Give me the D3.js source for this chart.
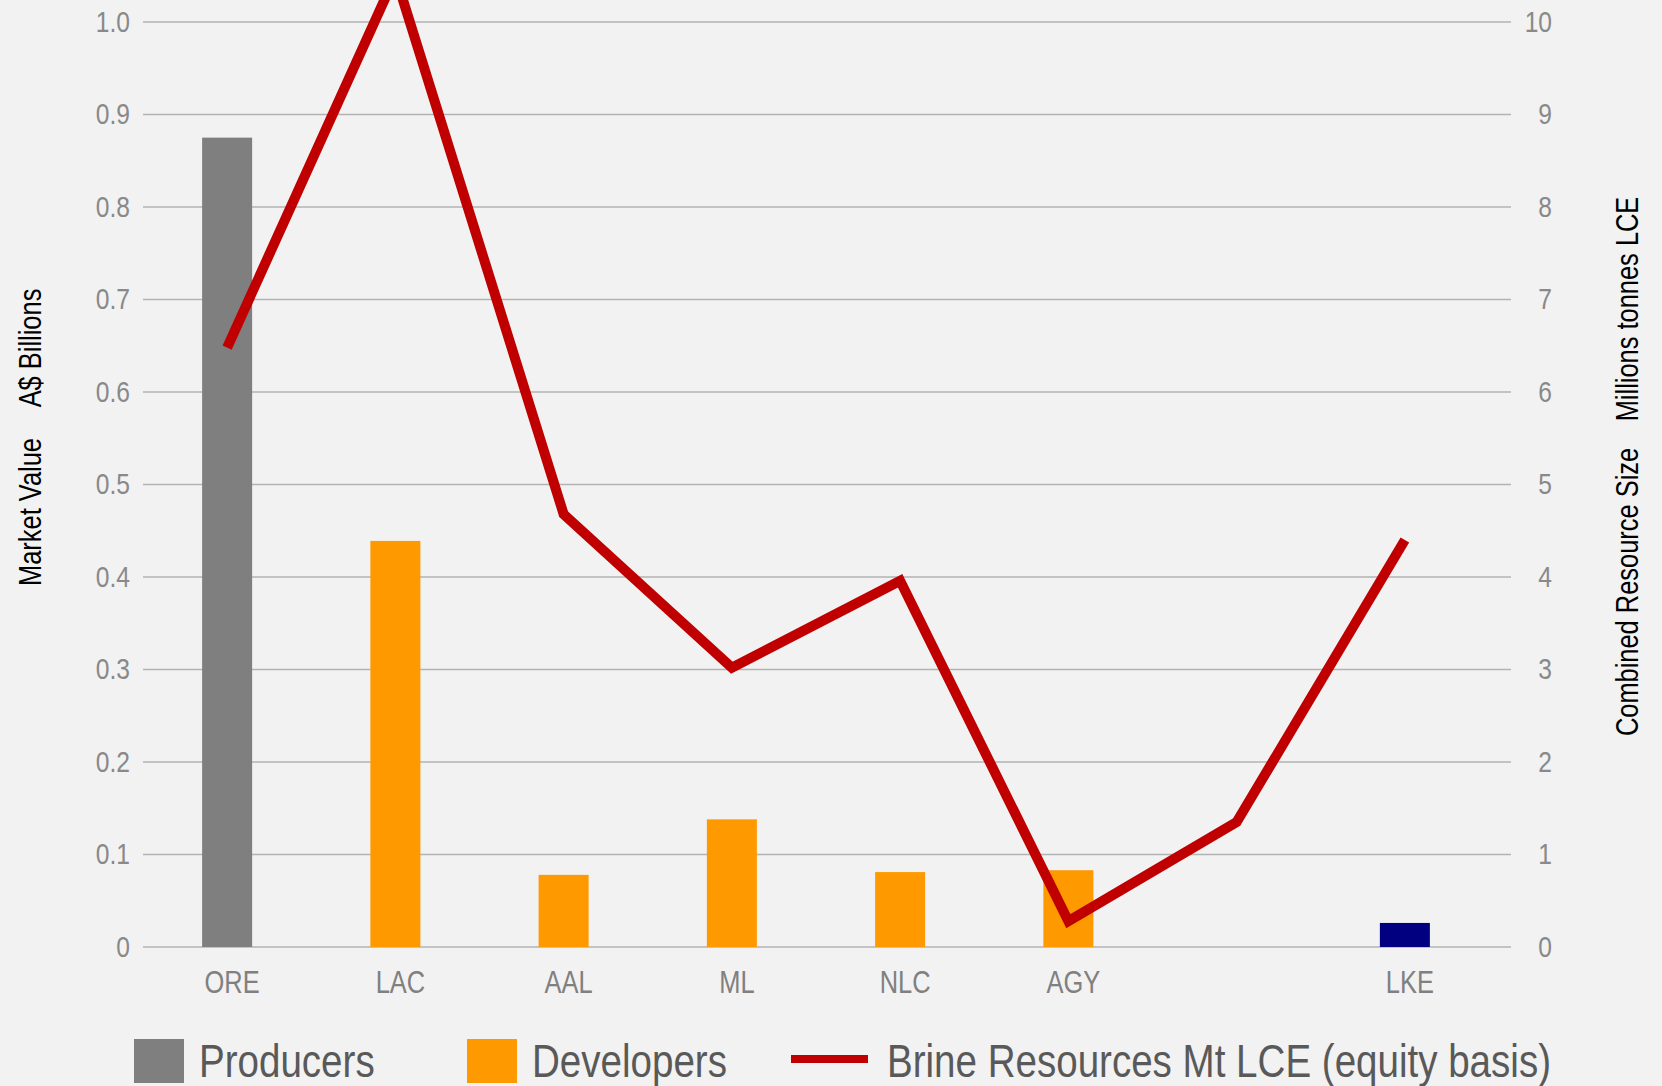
<!DOCTYPE html>
<html>
<head>
<meta charset="utf-8">
<script src="https://cdn.jsdelivr.net/npm/d3@7"></script>
<style>
  html, body { margin: 0; padding: 0; background: #f2f2f2; }
  svg { display: block; }
  text { font-family: "Liberation Sans", Arial, sans-serif; }
</style>
</head>
<body>
<svg id="chart" width="1662" height="1086"></svg>
<script>
// ---- data ----
const categories = ["ORE", "LAC", "AAL", "ML", "NLC", "AGY", "", "LKE"];
const marketValue = [0.875, 0.439, 0.078, 0.138, 0.081, 0.083, null, 0.026];
const companyGroup = ["Producers", "Developers", "Developers", "Developers", "Developers", "Developers", null, "Explorers"];
const brineResources = [6.48, 10.5, 4.68, 3.02, 3.96, 0.28, 1.35, 4.40];
const leftTicks = [0, 0.1, 0.2, 0.3, 0.4, 0.5, 0.6, 0.7, 0.8, 0.9, 1.0];
const leftTickLabels = ["0", "0.1", "0.2", "0.3", "0.4", "0.5", "0.6", "0.7", "0.8", "0.9", "1.0"];
const rightTicks = [0, 1, 2, 3, 4, 5, 6, 7, 8, 9, 10];
const legendItems = ["Producers", "Developers", "Brine Resources Mt LCE (equity basis)"];
const leftTitle = ["Market Value", "A$ Billions"];
const rightTitle = ["Combined Resource Size", "Millions tonnes LCE"];

// ---- layout ----
const W = 1662, H = 1086;
const plot = { left: 143, right: 1511, top: 22, bottom: 947 };
const bandRight = 1489;
const colors = { Producers: "#7f7f7f", Developers: "#ff9900", Explorers: "#000080" };
const lineColor = "#c00000";
const NARROW = 0.82;

function narrow(sel) {
  sel.each(function () {
    const L = this.getComputedTextLength();
    this.setAttribute("textLength", (L * NARROW).toFixed(2));
    this.setAttribute("lengthAdjust", "spacingAndGlyphs");
  });
}

const svg = d3.select("#chart");
svg.append("rect").attr("width", W).attr("height", H).attr("fill", "#f2f2f2");

const x = d3.scaleBand().domain(categories).range([plot.left, bandRight]).paddingInner(0).paddingOuter(0);
const yL = d3.scaleLinear().domain([0, 1]).range([plot.bottom, plot.top]);
const yR = d3.scaleLinear().domain([0, 10]).range([plot.bottom, plot.top]);
const barW = 50;

// gridlines
svg.append("g").selectAll("line").data(leftTicks).join("line")
  .attr("x1", plot.left).attr("x2", plot.right)
  .attr("y1", d => yL(d)).attr("y2", d => yL(d))
  .attr("stroke", "#b3b3b3").attr("stroke-width", 1.5);

// left axis labels
const axL = d3.axisLeft(yL).tickValues(leftTicks).tickFormat((d, i) => leftTickLabels[i]).tickSize(0).tickPadding(0);
const gL = svg.append("g").attr("transform", `translate(130,0)`).call(axL);
gL.select(".domain").remove();
gL.selectAll("text").attr("font-size", 30).attr("fill", "#898989")
  .style("font-family", '"Liberation Sans", Arial, sans-serif').attr("dy", "0.3em").call(narrow);

// right axis labels
const axR = d3.axisRight(yR).tickValues(rightTicks).tickFormat(d3.format("d")).tickSize(0).tickPadding(0);
const gR = svg.append("g").attr("transform", `translate(1552,0)`).call(axR);
gR.select(".domain").remove();
gR.selectAll("text").attr("font-size", 30).attr("fill", "#898989").attr("text-anchor", "end")
  .style("font-family", '"Liberation Sans", Arial, sans-serif').attr("dy", "0.3em").call(narrow);

// bars
const barData = categories.map((c, i) => ({ c, v: marketValue[i], g: companyGroup[i] })).filter(d => d.v != null);
svg.append("g").selectAll("rect").data(barData).join("rect")
  .attr("x", d => x(d.c) + x.bandwidth() / 2 - barW / 2)
  .attr("width", barW)
  .attr("y", d => yL(d.v))
  .attr("height", d => yL(0) - yL(d.v))
  .attr("fill", d => colors[d.g]);

// line
const lineData = categories.map((c, i) => ({ c, v: brineResources[i] }));
const line = d3.line().x(d => x(d.c) + x.bandwidth() / 2).y(d => yR(d.v));
svg.append("path").datum(lineData)
  .attr("d", line).attr("fill", "none")
  .attr("stroke", lineColor).attr("stroke-width", 10)
  .attr("stroke-linejoin", "miter").attr("stroke-miterlimit", 10).attr("stroke-linecap", "butt");

// category labels
const axX = d3.axisBottom(x).tickSize(0).tickPadding(0);
const gX = svg.append("g").attr("transform", `translate(5,993)`).call(axX);
gX.select(".domain").remove();
gX.selectAll("text").attr("font-size", 31).attr("fill", "#808080").attr("dy", 0)
  .style("font-family", '"Liberation Sans", Arial, sans-serif').call(narrow);

// axis titles (rotated)
const leftTitlePos = [512, 348];
leftTitle.forEach((t, i) => {
  svg.append("text").attr("transform", `translate(41,${leftTitlePos[i]}) rotate(-90)`)
    .attr("text-anchor", "middle").attr("font-size", 31).attr("fill", "#000").text(t).call(narrow);
});
const rightTitlePos = [592, 309];
rightTitle.forEach((t, i) => {
  svg.append("text").attr("transform", `translate(1638,${rightTitlePos[i]}) rotate(-90)`)
    .attr("text-anchor", "middle").attr("font-size", 31).attr("fill", "#000").text(t).call(narrow);
});

// legend
const legendX = [134, 467, 791];
const lg = svg.append("g");
legendItems.forEach((name, i) => {
  const gx = legendX[i];
  if (i < 2) {
    lg.append("rect").attr("x", gx).attr("y", 1039).attr("width", 50).attr("height", 44)
      .attr("fill", colors[name]);
    lg.append("text").attr("x", gx + 65).attr("y", 1077).attr("font-size", 47).attr("fill", "#595959").text(name).call(narrow);
  } else {
    lg.append("line").attr("x1", gx).attr("x2", gx + 77).attr("y1", 1059).attr("y2", 1059)
      .attr("stroke", lineColor).attr("stroke-width", 8);
    lg.append("text").attr("x", gx + 96).attr("y", 1077).attr("font-size", 47).attr("fill", "#595959").text(name).call(narrow);
  }
});
</script>
</body>
</html>
